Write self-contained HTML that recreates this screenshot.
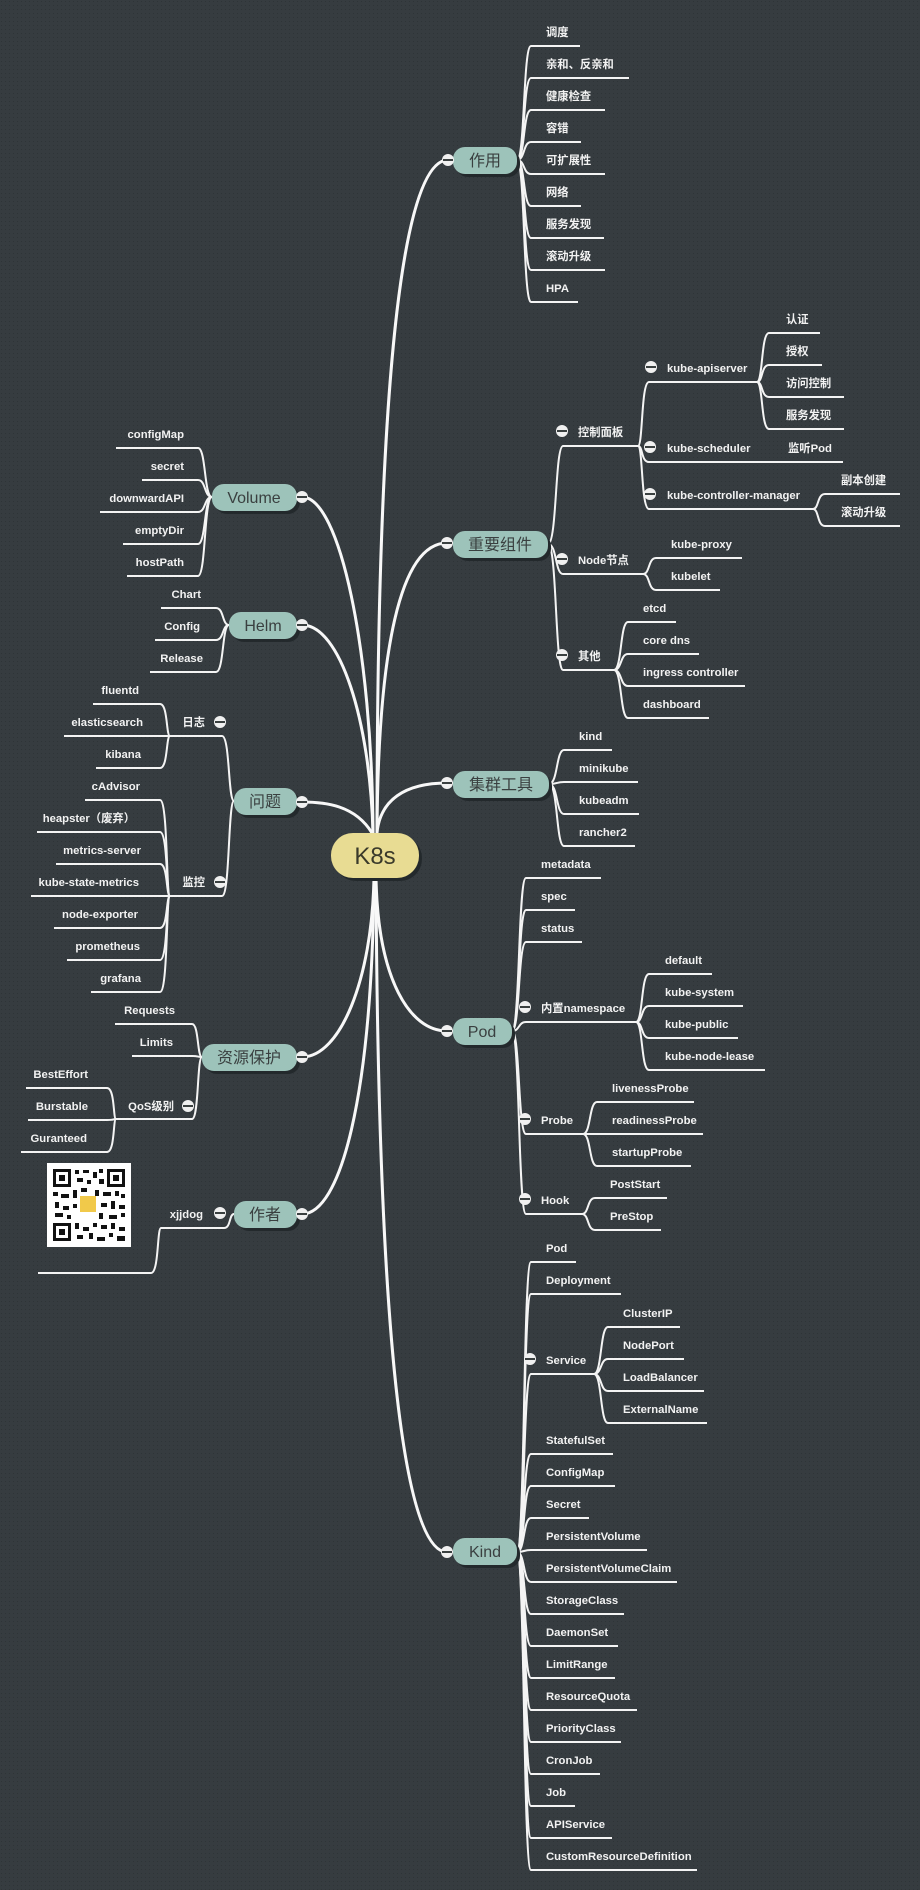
<!DOCTYPE html>
<html><head><meta charset="utf-8"><style>
html,body{margin:0;padding:0;background:#353b3f;}
svg{display:block;}
.l{fill:none;stroke:#f4f4f4;stroke-width:2;}
.m{fill:none;stroke:#f8f8f8;stroke-width:3;}
.t{font-family:"Liberation Sans","Noto Sans CJK SC",sans-serif;font-size:11.3px;font-weight:bold;fill:#f2f2f2;}
.r{text-anchor:end;}
.n{font-family:"Liberation Sans","Noto Sans CJK SC",sans-serif;font-size:16px;fill:#3a4040;text-anchor:middle;}
.nb{fill:#9dc3ba;}
.sh{fill:#23292c;}
.c{fill:#f0f0f0;}
.cm{stroke:#3a4040;stroke-width:2;}
</style></head><body>
<svg width="920" height="1890" viewBox="0 0 920 1890" xmlns="http://www.w3.org/2000/svg">
<defs><pattern id="dots" width="4" height="4" patternUnits="userSpaceOnUse"><rect width="4" height="4" fill="#363c40"/><rect x="1" y="1" width="1" height="1" fill="#2e3437"/></pattern></defs>
<rect width="920" height="1890" fill="url(#dots)"/>

<!-- main curves -->
<path class="m" d="M377 833 C377 400 400 160 448 160"/>
<path class="m" d="M377 833 C378 650 400 543 447 543"/>
<path class="m" d="M377 833 C380 800 405 783 447 783"/>
<path class="m" d="M376 878 C378 980 410 1031 447 1031"/>
<path class="m" d="M376 878 C378 1300 400 1552 447 1552"/>
<path class="m" d="M373 833 C372 650 340 497 302 497"/>
<path class="m" d="M373 833 C370 720 340 625 302 625"/>
<path class="m" d="M372 833 C355 805 325 802 302 802"/>
<path class="m" d="M374 878 C372 980 340 1057 302 1057"/>
<path class="m" d="M374 878 C372 1100 340 1214 302 1214"/>

<!-- 作用 -->
<g>
<path class="l" d="M517 160 C525 160 523 46 531 46 L580 46"/>
<path class="l" d="M517 160 C525 160 523 78 531 78 L629 78"/>
<path class="l" d="M517 160 C525 160 523 110 531 110 L605 110"/>
<path class="l" d="M517 160 C525 160 523 142 531 142 L581 142"/>
<path class="l" d="M517 160 C525 160 523 174 531 174 L605 174"/>
<path class="l" d="M517 160 C525 160 523 206 531 206 L581 206"/>
<path class="l" d="M517 160 C525 160 523 238 531 238 L604 238"/>
<path class="l" d="M517 160 C525 160 523 270 531 270 L605 270"/>
<path class="l" d="M517 160 C525 160 523 302 531 302 L578 302"/>
<text class="t" x="546" y="36">调度</text>
<text class="t" x="546" y="68">亲和、反亲和</text>
<text class="t" x="546" y="100">健康检查</text>
<text class="t" x="546" y="132">容错</text>
<text class="t" x="546" y="164">可扩展性</text>
<text class="t" x="546" y="196">网络</text>
<text class="t" x="546" y="228">服务发现</text>
<text class="t" x="546" y="260">滚动升级</text>
<text class="t" x="546" y="292">HPA</text>
</g>

<!-- 重要组件 -->
<g>
<path class="l" d="M548 544 C557 544 555 446 563 446 L638 446"/>
<path class="l" d="M548 544 C557 544 555 574 563 574 L643 574"/>
<path class="l" d="M548 544 C557 544 555 670 563 670 L614 670"/>
<path class="l" d="M638 446 C643 446 641 382 649 382 L757 382"/>
<path class="l" d="M638 446 C643 446 641 462 649 462 L843 462"/>
<path class="l" d="M638 446 C643 446 641 509 649 509 L813 509"/>
<path class="l" d="M757 382 C763 382 761 333 769 333 L820 333"/>
<path class="l" d="M757 382 C763 382 761 365 769 365 L822 365"/>
<path class="l" d="M757 382 C763 382 761 397 769 397 L844 397"/>
<path class="l" d="M757 382 C763 382 761 429 769 429 L844 429"/>
<path class="l" d="M813 509 C819 509 817 494 825 494 L900 494"/>
<path class="l" d="M813 509 C819 509 817 526 825 526 L900 526"/>
<path class="l" d="M643 574 C650 574 648 558 656 558 L742 558"/>
<path class="l" d="M643 574 C650 574 648 590 656 590 L720 590"/>
<path class="l" d="M614 670 C622 670 620 622 628 622 L676 622"/>
<path class="l" d="M614 670 C622 670 620 654 628 654 L699 654"/>
<path class="l" d="M614 670 C622 670 620 686 628 686 L745 686"/>
<path class="l" d="M614 670 C622 670 620 718 628 718 L709 718"/>
<text class="t" x="578" y="436">控制面板</text>
<text class="t" x="667" y="372">kube-apiserver</text>
<text class="t" x="667" y="452">kube-scheduler</text>
<text class="t" x="788" y="452">监听Pod</text>
<text class="t" x="667" y="499">kube-controller-manager</text>
<text class="t" x="786" y="323">认证</text>
<text class="t" x="786" y="355">授权</text>
<text class="t" x="786" y="387">访问控制</text>
<text class="t" x="786" y="419">服务发现</text>
<text class="t" x="841" y="484">副本创建</text>
<text class="t" x="841" y="516">滚动升级</text>
<text class="t" x="578" y="564">Node节点</text>
<text class="t" x="671" y="548">kube-proxy</text>
<text class="t" x="671" y="580">kubelet</text>
<text class="t" x="578" y="660">其他</text>
<text class="t" x="643" y="612">etcd</text>
<text class="t" x="643" y="644">core dns</text>
<text class="t" x="643" y="676">ingress controller</text>
<text class="t" x="643" y="708">dashboard</text>
</g>

<!-- 集群工具 -->
<g>
<path class="l" d="M549 784 C558 784 556 750 564 750 L612 750"/>
<path class="l" d="M549 784 C558 784 556 782 564 782 L638 782"/>
<path class="l" d="M549 784 C558 784 556 814 564 814 L639 814"/>
<path class="l" d="M549 784 C558 784 556 846 564 846 L635 846"/>
<text class="t" x="579" y="740">kind</text>
<text class="t" x="579" y="772">minikube</text>
<text class="t" x="579" y="804">kubeadm</text>
<text class="t" x="579" y="836">rancher2</text>
</g>

<!-- Pod -->
<g>
<path class="l" d="M512 1031 C520 1031 518 878 526 878 L601 878"/>
<path class="l" d="M512 1031 C520 1031 518 910 526 910 L575 910"/>
<path class="l" d="M512 1031 C520 1031 518 942 526 942 L582 942"/>
<path class="l" d="M512 1031 C520 1031 518 1022 526 1022 L636 1022"/>
<path class="l" d="M512 1031 C520 1031 518 1134 526 1134 L583 1134"/>
<path class="l" d="M512 1031 C520 1031 518 1214 526 1214 L582 1214"/>
<path class="l" d="M636 1022 C643 1022 641 974 649 974 L712 974"/>
<path class="l" d="M636 1022 C643 1022 641 1006 649 1006 L743 1006"/>
<path class="l" d="M636 1022 C643 1022 641 1038 649 1038 L738 1038"/>
<path class="l" d="M636 1022 C643 1022 641 1070 649 1070 L765 1070"/>
<path class="l" d="M583 1134 C591 1134 589 1102 597 1102 L694 1102"/>
<path class="l" d="M583 1134 C591 1134 589 1134 597 1134 L703 1134"/>
<path class="l" d="M583 1134 C591 1134 589 1166 597 1166 L691 1166"/>
<path class="l" d="M582 1214 C589 1214 587 1198 595 1198 L667 1198"/>
<path class="l" d="M582 1214 C589 1214 587 1230 595 1230 L661 1230"/>
<text class="t" x="541" y="868">metadata</text>
<text class="t" x="541" y="900">spec</text>
<text class="t" x="541" y="932">status</text>
<text class="t" x="541" y="1012">内置namespace</text>
<text class="t" x="541" y="1124">Probe</text>
<text class="t" x="541" y="1204">Hook</text>
<text class="t" x="665" y="964">default</text>
<text class="t" x="665" y="996">kube-system</text>
<text class="t" x="665" y="1028">kube-public</text>
<text class="t" x="665" y="1060">kube-node-lease</text>
<text class="t" x="612" y="1092">livenessProbe</text>
<text class="t" x="612" y="1124">readinessProbe</text>
<text class="t" x="612" y="1156">startupProbe</text>
<text class="t" x="610" y="1188">PostStart</text>
<text class="t" x="610" y="1220">PreStop</text>
</g>

<!-- Kind -->
<g>
<path class="l" d="M517 1552 C525 1552 523 1262 531 1262 L576 1262"/>
<path class="l" d="M517 1552 C525 1552 523 1294 531 1294 L621 1294"/>
<path class="l" d="M517 1552 C525 1552 523 1374 531 1374 L594 1374"/>
<path class="l" d="M517 1552 C525 1552 523 1454 531 1454 L613 1454"/>
<path class="l" d="M517 1552 C525 1552 523 1486 531 1486 L615 1486"/>
<path class="l" d="M517 1552 C525 1552 523 1518 531 1518 L589 1518"/>
<path class="l" d="M517 1552 C525 1552 523 1550 531 1550 L647 1550"/>
<path class="l" d="M517 1552 C525 1552 523 1582 531 1582 L677 1582"/>
<path class="l" d="M517 1552 C525 1552 523 1614 531 1614 L624 1614"/>
<path class="l" d="M517 1552 C525 1552 523 1646 531 1646 L618 1646"/>
<path class="l" d="M517 1552 C525 1552 523 1678 531 1678 L615 1678"/>
<path class="l" d="M517 1552 C525 1552 523 1710 531 1710 L637 1710"/>
<path class="l" d="M517 1552 C525 1552 523 1742 531 1742 L621 1742"/>
<path class="l" d="M517 1552 C525 1552 523 1774 531 1774 L600 1774"/>
<path class="l" d="M517 1552 C525 1552 523 1806 531 1806 L575 1806"/>
<path class="l" d="M517 1552 C525 1552 523 1838 531 1838 L612 1838"/>
<path class="l" d="M517 1552 C525 1552 523 1870 531 1870 L697 1870"/>
<path class="l" d="M594 1374 C602 1374 600 1327 608 1327 L680 1327"/>
<path class="l" d="M594 1374 C602 1374 600 1359 608 1359 L684 1359"/>
<path class="l" d="M594 1374 C602 1374 600 1391 608 1391 L704 1391"/>
<path class="l" d="M594 1374 C602 1374 600 1423 608 1423 L707 1423"/>
<text class="t" x="546" y="1252">Pod</text>
<text class="t" x="546" y="1284">Deployment</text>
<text class="t" x="546" y="1364">Service</text>
<text class="t" x="623" y="1317">ClusterIP</text>
<text class="t" x="623" y="1349">NodePort</text>
<text class="t" x="623" y="1381">LoadBalancer</text>
<text class="t" x="623" y="1413">ExternalName</text>
<text class="t" x="546" y="1444">StatefulSet</text>
<text class="t" x="546" y="1476">ConfigMap</text>
<text class="t" x="546" y="1508">Secret</text>
<text class="t" x="546" y="1540">PersistentVolume</text>
<text class="t" x="546" y="1572">PersistentVolumeClaim</text>
<text class="t" x="546" y="1604">StorageClass</text>
<text class="t" x="546" y="1636">DaemonSet</text>
<text class="t" x="546" y="1668">LimitRange</text>
<text class="t" x="546" y="1700">ResourceQuota</text>
<text class="t" x="546" y="1732">PriorityClass</text>
<text class="t" x="546" y="1764">CronJob</text>
<text class="t" x="546" y="1796">Job</text>
<text class="t" x="546" y="1828">APIService</text>
<text class="t" x="546" y="1860">CustomResourceDefinition</text>
</g>

<!-- Volume -->
<g>
<path class="l" d="M212 497 C204 497 206 448 198 448 L116 448"/>
<path class="l" d="M212 497 C204 497 206 480 198 480 L142 480"/>
<path class="l" d="M212 497 C204 497 206 512 198 512 L100 512"/>
<path class="l" d="M212 497 C204 497 206 544 198 544 L123 544"/>
<path class="l" d="M212 497 C204 497 206 576 198 576 L127 576"/>
<text class="t r" x="184" y="438">configMap</text>
<text class="t r" x="184" y="470">secret</text>
<text class="t r" x="184" y="502">downwardAPI</text>
<text class="t r" x="184" y="534">emptyDir</text>
<text class="t r" x="184" y="566">hostPath</text>
</g>

<!-- Helm -->
<g>
<path class="l" d="M229 625 C222 625 224 608 216 608 L161 608"/>
<path class="l" d="M229 625 C222 625 224 640 216 640 L155 640"/>
<path class="l" d="M229 625 C222 625 224 672 216 672 L150 672"/>
<text class="t r" x="201" y="598">Chart</text>
<text class="t r" x="200" y="630">Config</text>
<text class="t r" x="203" y="662">Release</text>
</g>

<!-- 问题 -->
<g>
<path class="l" d="M234 801 C228 801 230 736 222 736 L170 736"/>
<path class="l" d="M234 801 C228 801 230 896 222 896 L170 896"/>
<path class="l" d="M170 736 C166 736 168 704 160 704 L93 704"/>
<path class="l" d="M170 736 C166 736 168 736 160 736 L64 736"/>
<path class="l" d="M170 736 C166 736 168 768 160 768 L96 768"/>
<path class="l" d="M170 896 C166 896 168 800 160 800 L85 800"/>
<path class="l" d="M170 896 C166 896 168 832 160 832 L37 832"/>
<path class="l" d="M170 896 C166 896 168 864 160 864 L56 864"/>
<path class="l" d="M170 896 C166 896 168 896 160 896 L31 896"/>
<path class="l" d="M170 896 C166 896 168 928 160 928 L54 928"/>
<path class="l" d="M170 896 C166 896 168 960 160 960 L67 960"/>
<path class="l" d="M170 896 C166 896 168 992 160 992 L91 992"/>
<text class="t r" x="205" y="726">日志</text>
<text class="t r" x="205" y="886">监控</text>
<text class="t r" x="139" y="694">fluentd</text>
<text class="t r" x="143" y="726">elasticsearch</text>
<text class="t r" x="141" y="758">kibana</text>
<text class="t r" x="140" y="790">cAdvisor</text>
<text class="t r" x="135" y="822">heapster（废弃）</text>
<text class="t r" x="141" y="854">metrics-server</text>
<text class="t r" x="139" y="886">kube-state-metrics</text>
<text class="t r" x="138" y="918">node-exporter</text>
<text class="t r" x="140" y="950">prometheus</text>
<text class="t r" x="141" y="982">grafana</text>
</g>

<!-- 资源保护 -->
<g>
<path class="l" d="M202 1057 C197 1057 199 1024 192 1024 L115 1024"/>
<path class="l" d="M202 1057 C197 1057 199 1056 192 1056 L132 1056"/>
<path class="l" d="M202 1057 C197 1057 199 1119 192 1119 L116 1119"/>
<path class="l" d="M116 1119 C113 1119 115 1088 107 1088 L26 1088"/>
<path class="l" d="M116 1119 C113 1119 115 1120 107 1120 L28 1120"/>
<path class="l" d="M116 1119 C113 1119 115 1152 107 1152 L21 1152"/>
<text class="t r" x="175" y="1014">Requests</text>
<text class="t r" x="173" y="1046">Limits</text>
<text class="t r" x="174" y="1110">QoS级别</text>
<text class="t r" x="88" y="1078">BestEffort</text>
<text class="t r" x="88" y="1110">Burstable</text>
<text class="t r" x="87" y="1142">Guranteed</text>
</g>

<!-- 作者 -->
<g>
<path class="l" d="M234 1214 C229 1214 231 1228 224 1228 L161 1228"/>
<path class="l" d="M161 1228 C157 1228 159 1273 151 1273 L38 1273"/>
<text class="t r" x="203" y="1218">xjjdog</text>
<rect x="47" y="1163" width="84" height="84" fill="#fff"/>
<g fill="#111">
<rect x="53" y="1169" width="18" height="18"/><rect x="56" y="1172" width="12" height="12" fill="#fff"/><rect x="59" y="1175" width="6" height="6"/>
<rect x="107" y="1169" width="18" height="18"/><rect x="110" y="1172" width="12" height="12" fill="#fff"/><rect x="113" y="1175" width="6" height="6"/>
<rect x="53" y="1223" width="18" height="18"/><rect x="56" y="1226" width="12" height="12" fill="#fff"/><rect x="59" y="1229" width="6" height="6"/>
<rect x="75" y="1170" width="4" height="4"/><rect x="83" y="1170" width="6" height="3"/><rect x="93" y="1172" width="4" height="6"/><rect x="99" y="1169" width="4" height="4"/>
<rect x="77" y="1178" width="6" height="4"/><rect x="87" y="1180" width="4" height="4"/><rect x="99" y="1179" width="5" height="5"/>
<rect x="53" y="1192" width="5" height="4"/><rect x="61" y="1194" width="8" height="4"/><rect x="73" y="1190" width="4" height="8"/><rect x="81" y="1188" width="6" height="4"/>
<rect x="95" y="1190" width="4" height="6"/><rect x="103" y="1192" width="8" height="4"/><rect x="115" y="1191" width="4" height="5"/><rect x="121" y="1194" width="4" height="4"/>
<rect x="55" y="1202" width="4" height="6"/><rect x="63" y="1206" width="6" height="4"/><rect x="73" y="1204" width="4" height="4"/>
<rect x="101" y="1203" width="6" height="4"/><rect x="111" y="1201" width="4" height="8"/><rect x="119" y="1205" width="6" height="4"/>
<rect x="55" y="1213" width="8" height="4"/><rect x="67" y="1215" width="4" height="4"/><rect x="99" y="1213" width="4" height="6"/><rect x="109" y="1215" width="8" height="4"/><rect x="121" y="1213" width="4" height="4"/>
<rect x="75" y="1223" width="4" height="6"/><rect x="83" y="1227" width="6" height="4"/><rect x="93" y="1223" width="4" height="4"/><rect x="101" y="1225" width="6" height="4"/><rect x="111" y="1223" width="4" height="6"/><rect x="119" y="1227" width="6" height="4"/>
<rect x="77" y="1235" width="6" height="4"/><rect x="89" y="1233" width="4" height="6"/><rect x="97" y="1237" width="8" height="4"/><rect x="109" y="1233" width="4" height="4"/><rect x="117" y="1236" width="8" height="5"/>
</g>
<rect x="80" y="1196" width="16" height="16" fill="#f1c94a"/>
</g>

<!-- nodes -->
<g>
<rect class="sh" x="334" y="836" width="88" height="45" rx="22"/>
<rect x="331" y="833" width="88" height="45" rx="22" fill="#e8dc93"/>
<text x="375" y="864" font-family="Liberation Sans, sans-serif" font-size="24" fill="#3a3a2a" text-anchor="middle">K8s</text>

<rect class="sh" x="456" y="150" width="64" height="27" rx="12"/>
<rect class="nb" x="453" y="147" width="64" height="27" rx="12"/>
<text class="n" x="485" y="166">作用</text>
<rect class="sh" x="456" y="534" width="95" height="27" rx="12"/>
<rect class="nb" x="453" y="531" width="95" height="27" rx="12"/>
<text class="n" x="500" y="550">重要组件</text>
<rect class="sh" x="456" y="774" width="96" height="27" rx="12"/>
<rect class="nb" x="453" y="771" width="96" height="27" rx="12"/>
<text class="n" x="501" y="790">集群工具</text>
<rect class="sh" x="456" y="1021" width="59" height="27" rx="12"/>
<rect class="nb" x="453" y="1018" width="59" height="27" rx="12"/>
<text class="n" x="482" y="1037">Pod</text>
<rect class="sh" x="456" y="1541" width="64" height="27" rx="12"/>
<rect class="nb" x="453" y="1538" width="64" height="27" rx="12"/>
<text class="n" x="485" y="1557">Kind</text>

<rect class="sh" x="215" y="487" width="85" height="27" rx="12"/>
<rect class="nb" x="212" y="484" width="85" height="27" rx="12"/>
<text class="n" x="254" y="503">Volume</text>
<rect class="sh" x="232" y="615" width="68" height="27" rx="12"/>
<rect class="nb" x="229" y="612" width="68" height="27" rx="12"/>
<text class="n" x="263" y="631">Helm</text>
<rect class="sh" x="237" y="791" width="63" height="27" rx="12"/>
<rect class="nb" x="234" y="788" width="63" height="27" rx="12"/>
<text class="n" x="265" y="807">问题</text>
<rect class="sh" x="205" y="1047" width="95" height="27" rx="12"/>
<rect class="nb" x="202" y="1044" width="95" height="27" rx="12"/>
<text class="n" x="249" y="1063">资源保护</text>
<rect class="sh" x="237" y="1204" width="63" height="27" rx="12"/>
<rect class="nb" x="234" y="1201" width="63" height="27" rx="12"/>
<text class="n" x="265" y="1220">作者</text>
</g>

<!-- collapse circles -->
<g>
<circle class="c" cx="448" cy="160" r="6"/><line class="cm" x1="443" y1="160" x2="453" y2="160"/>
<circle class="c" cx="447" cy="543" r="6"/><line class="cm" x1="442" y1="543" x2="452" y2="543"/>
<circle class="c" cx="447" cy="783" r="6"/><line class="cm" x1="442" y1="783" x2="452" y2="783"/>
<circle class="c" cx="447" cy="1031" r="6"/><line class="cm" x1="442" y1="1031" x2="452" y2="1031"/>
<circle class="c" cx="447" cy="1552" r="6"/><line class="cm" x1="442" y1="1552" x2="452" y2="1552"/>
<circle class="c" cx="302" cy="497" r="6"/><line class="cm" x1="297" y1="497" x2="307" y2="497"/>
<circle class="c" cx="302" cy="625" r="6"/><line class="cm" x1="297" y1="625" x2="307" y2="625"/>
<circle class="c" cx="302" cy="802" r="6"/><line class="cm" x1="297" y1="802" x2="307" y2="802"/>
<circle class="c" cx="302" cy="1057" r="6"/><line class="cm" x1="297" y1="1057" x2="307" y2="1057"/>
<circle class="c" cx="302" cy="1214" r="6"/><line class="cm" x1="297" y1="1214" x2="307" y2="1214"/>

<circle class="c" cx="562" cy="431" r="6"/><line class="cm" x1="557" y1="431" x2="567" y2="431"/>
<circle class="c" cx="651" cy="367" r="6"/><line class="cm" x1="646" y1="367" x2="656" y2="367"/>
<circle class="c" cx="650" cy="447" r="6"/><line class="cm" x1="645" y1="447" x2="655" y2="447"/>
<circle class="c" cx="650" cy="494" r="6"/><line class="cm" x1="645" y1="494" x2="655" y2="494"/>
<circle class="c" cx="562" cy="559" r="6"/><line class="cm" x1="557" y1="559" x2="567" y2="559"/>
<circle class="c" cx="562" cy="655" r="6"/><line class="cm" x1="557" y1="655" x2="567" y2="655"/>
<circle class="c" cx="525" cy="1007" r="6"/><line class="cm" x1="520" y1="1007" x2="530" y2="1007"/>
<circle class="c" cx="525" cy="1119" r="6"/><line class="cm" x1="520" y1="1119" x2="530" y2="1119"/>
<circle class="c" cx="525" cy="1199" r="6"/><line class="cm" x1="520" y1="1199" x2="530" y2="1199"/>
<circle class="c" cx="530" cy="1359" r="6"/><line class="cm" x1="525" y1="1359" x2="535" y2="1359"/>
<circle class="c" cx="220" cy="722" r="6"/><line class="cm" x1="215" y1="722" x2="225" y2="722"/>
<circle class="c" cx="220" cy="882" r="6"/><line class="cm" x1="215" y1="882" x2="225" y2="882"/>
<circle class="c" cx="188" cy="1106" r="6"/><line class="cm" x1="183" y1="1106" x2="193" y2="1106"/>
<circle class="c" cx="220" cy="1213" r="6"/><line class="cm" x1="215" y1="1213" x2="225" y2="1213"/>
</g>
</svg>
</body></html>
